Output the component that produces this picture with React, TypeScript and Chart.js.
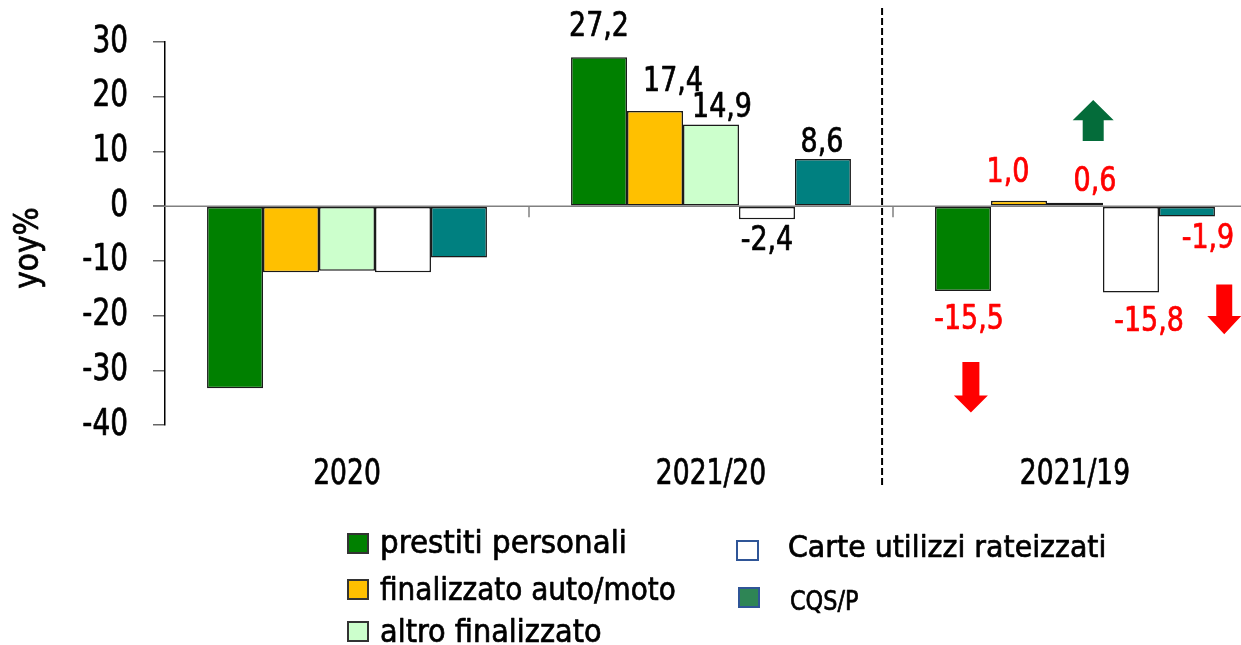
import React, { useEffect, useRef } from 'react';
import { Chart, registerables } from 'chart.js';

Chart.register(...registerables);

// ---------- data ----------
const categories = ['2020', '2021/20', '2021/19'];
const seriesNames = [
  'prestiti personali',
  'finalizzato auto/moto',
  'altro finalizzato',
  'Carte utilizzi rateizzati',
  'CQS/P',
];
const prestitiPersonali = [-33.3, 27.2, -15.5];
const finalizzatoAutoMoto = [-12.1, 17.4, 1.0];
const altroFinalizzato = [-11.8, 14.9, 0.6];
const carteUtilizziRateizzati = [-12.1, -2.4, -15.8];
const cqsP = [-9.4, 8.6, -1.9];
const yMin = -40;
const yMax = 30;
const yStep = 10;
const yTitle = 'yoy%';

// which category groups carry value labels, and their colour
const labelShown = [false, true, true];
const labelColors = ['#000000', '#000000', '#FF0000'];
// label nudges in px [series][category] (layout only)
const labelDx = [
  [0, 0, 6],
  [0, 18, -11],
  [0, 11, 20],
  [0, 0, 18],
  [0, -1, 21],
];
const labelDy = [
  [0, -30, 29],
  [0, -29, -27],
  [0, -16, -21],
  [0, 22, 30],
  [0, -16, 23],
];

// ---------- styles ----------
const FONT = "'DejaVu Sans Condensed', 'DejaVu Sans', sans-serif";
const barColors = ['#008000', '#FFC000', '#CCFFCC', '#FFFFFF', '#008080'];

const fmt = (v: number) => v.toFixed(1).replace('.', ',');

function drawText(
  ctx: CanvasRenderingContext2D,
  text: string,
  x: number,
  y: number,
  size: number,
  k: number,
  align: CanvasTextAlign,
  baseline: CanvasTextBaseline,
  color: string,
) {
  ctx.save();
  ctx.translate(x, y);
  ctx.scale(k, 1);
  ctx.font = `${size}px ${FONT}`;
  ctx.textAlign = align;
  ctx.textBaseline = baseline;
  ctx.fillStyle = color;
  ctx.strokeStyle = color;
  ctx.lineWidth = 0.7;
  ctx.lineJoin = 'round';
  ctx.fillText(text, 0, 0);
  ctx.strokeText(text, 0, 0);
  ctx.restore();
}

const decorPlugin = {
  id: 'decor',
  beforeDatasetsDraw(chart: any) {
    const { ctx, scales } = chart;
    const y0 = scales.y.getPixelForValue(0);
    ctx.save();
    ctx.strokeStyle = '#808080';
    ctx.lineWidth = 1.5;
    ctx.beginPath();
    ctx.moveTo(chart.chartArea.left - 12, y0);
    ctx.lineTo(chart.width, y0);
    ctx.stroke();
    // boundary ticks on the zero line
    for (let i = 0; i < categories.length - 1; i++) {
      const xb = (scales.x.getPixelForValue(i) + scales.x.getPixelForValue(i + 1)) / 2;
      ctx.beginPath();
      ctx.moveTo(xb, y0);
      ctx.lineTo(xb, y0 + 11);
      ctx.stroke();
    }
    ctx.restore();
  },
  afterDatasetsDraw(chart: any) {
    const { ctx, scales } = chart;
    const xs = scales.x;
    const ys = scales.y;
    const catW = xs.getPixelForValue(1) - xs.getPixelForValue(0);
    ctx.save();

    // y tick labels
    ys.ticks.forEach((t: any) => {
      drawText(ctx, String(t.value), chart.chartArea.left - 37, ys.getPixelForValue(t.value), 37, 0.84, 'right', 'middle', '#000');
    });

    // value labels
    chart.data.datasets.forEach((ds: any, si: number) => {
      const meta = chart.getDatasetMeta(si);
      meta.data.forEach((el: any, ci: number) => {
        if (!labelShown[ci]) return;
        drawText(ctx, fmt(ds.data[ci]), el.x + labelDx[si][ci], el.y + labelDy[si][ci], 34, 0.88, 'center', 'middle', labelColors[ci]);
      });
    });

    // category labels
    categories.forEach((c, i) => {
      drawText(ctx, c, xs.getPixelForValue(i), 475, 36, 0.82, 'center', 'middle', '#000');
    });

    // y title
    ctx.save();
    ctx.translate(29, 248);
    ctx.rotate(-Math.PI / 2);
    drawText(ctx, yTitle, 0, 0, 33, 1, 'center', 'middle', '#000');
    ctx.restore();

    // dashed separator
    const xd = xs.getPixelForValue(1) + 0.47 * catW;
    ctx.strokeStyle = '#000';
    ctx.lineWidth = 2;
    ctx.setLineDash([7, 3]);
    ctx.beginPath();
    ctx.moveTo(xd, ys.getPixelForValue(36.2));
    ctx.lineTo(xd, ys.getPixelForValue(-51.3));
    ctx.stroke();
    ctx.setLineDash([]);

    // arrows
    const arrows = [
      { cat: 2, off: 0.05, tail: 11.9, neck: 15.7, tip: 19.4, headW: 41, shaftW: 21, color: '#046C3A' },
      { cat: 2, off: -0.286, tail: -28.5, neck: -34.6, tip: -37.7, headW: 34, shaftW: 17, color: '#FF0000' },
      { cat: 2, off: 0.41, tail: -14.3, neck: -20.1, tip: -23.4, headW: 34, shaftW: 16, color: '#FF0000' },
    ];
    arrows.forEach((a) => {
      const cx = xs.getPixelForValue(a.cat) + a.off * catW;
      const yt = ys.getPixelForValue(a.tail);
      const yn = ys.getPixelForValue(a.neck);
      const yp = ys.getPixelForValue(a.tip);
      ctx.fillStyle = a.color;
      ctx.beginPath();
      ctx.moveTo(cx - a.shaftW / 2, yt);
      ctx.lineTo(cx + a.shaftW / 2, yt);
      ctx.lineTo(cx + a.shaftW / 2, yn);
      ctx.lineTo(cx + a.headW / 2, yn);
      ctx.lineTo(cx, yp);
      ctx.lineTo(cx - a.headW / 2, yn);
      ctx.lineTo(cx - a.shaftW / 2, yn);
      ctx.closePath();
      ctx.fill();
    });

    // legend
    const legendItems = [
      { x: 348, y: 534, w: 20, h: 19, fill: barColors[0], stroke: '#333333', tx: 380, ty: 553, size: 32, k: 1.02 },
      { x: 348, y: 580, w: 20, h: 19, fill: barColors[1], stroke: '#333333', tx: 380, ty: 600, size: 32, k: 0.97 },
      { x: 348, y: 622, w: 20, h: 19, fill: barColors[2], stroke: '#333333', tx: 380, ty: 642, size: 32, k: 1.0 },
      { x: 737, y: 541, w: 21, h: 19, fill: '#FFFFFF', stroke: '#2F5597', tx: 788, ty: 557, size: 31, k: 1.02 },
      { x: 739, y: 588, w: 20, h: 19, fill: '#2E8555', stroke: '#2F5597', tx: 790, ty: 610, size: 27, k: 0.92 },
    ];
    legendItems.forEach((it, i) => {
      ctx.fillStyle = it.fill;
      ctx.fillRect(it.x, it.y, it.w, it.h);
      ctx.strokeStyle = it.stroke;
      ctx.lineWidth = 2;
      ctx.strokeRect(it.x, it.y, it.w, it.h);
      drawText(ctx, seriesNames[i], it.tx, it.ty, it.size, it.k, 'left', 'alphabetic', '#000');
    });

    ctx.restore();
  },
};

export default function App() {
  const ref = useRef<HTMLCanvasElement | null>(null);
  useEffect(() => {
    if (!ref.current) return;
    const seriesData = [prestitiPersonali, finalizzatoAutoMoto, altroFinalizzato, carteUtilizziRateizzati, cqsP];
    const chart = new Chart(ref.current, {
      type: 'bar',
      data: {
        labels: categories,
        datasets: seriesData.map((d, i) => ({
          label: seriesNames[i],
          data: d,
          backgroundColor: barColors[i],
          borderColor: '#1a1a1a',
          borderWidth: 1.5,
          borderSkipped: false,
          categoryPercentage: 0.769,
          barPercentage: 1,
        })),
      },
      options: {
        animation: false,
        responsive: false,
        devicePixelRatio: 1,
        layout: { padding: { top: 42, left: 0, right: 0, bottom: 0 } },
        plugins: { legend: { display: false }, tooltip: { enabled: false }, title: { display: false } },
        scales: {
          x: {
            ticks: { display: false },
            grid: { display: false, drawTicks: false },
            border: { display: false },
            afterFit: (s: any) => {
              s.height = 220;
            },
          },
          y: {
            min: yMin,
            max: yMax,
            ticks: { stepSize: yStep, display: false },
            grid: { drawOnChartArea: false, drawTicks: true, tickLength: 12, color: '#666666', lineWidth: 1.5 },
            border: { display: true, color: '#000', width: 1.5 },
            afterFit: (s: any) => {
              s.width = 165;
            },
          },
        },
      },
      plugins: [decorPlugin],
    });
    return () => chart.destroy();
  }, []);

  return (
    <div style={{ position: 'fixed', left: 0, top: 0, width: 1241, height: 645, overflow: 'hidden', background: '#fff' }}>
      <canvas ref={ref} width={1257} height={645} style={{ display: 'block', width: 1257, height: 645 }} />
    </div>
  );
}
